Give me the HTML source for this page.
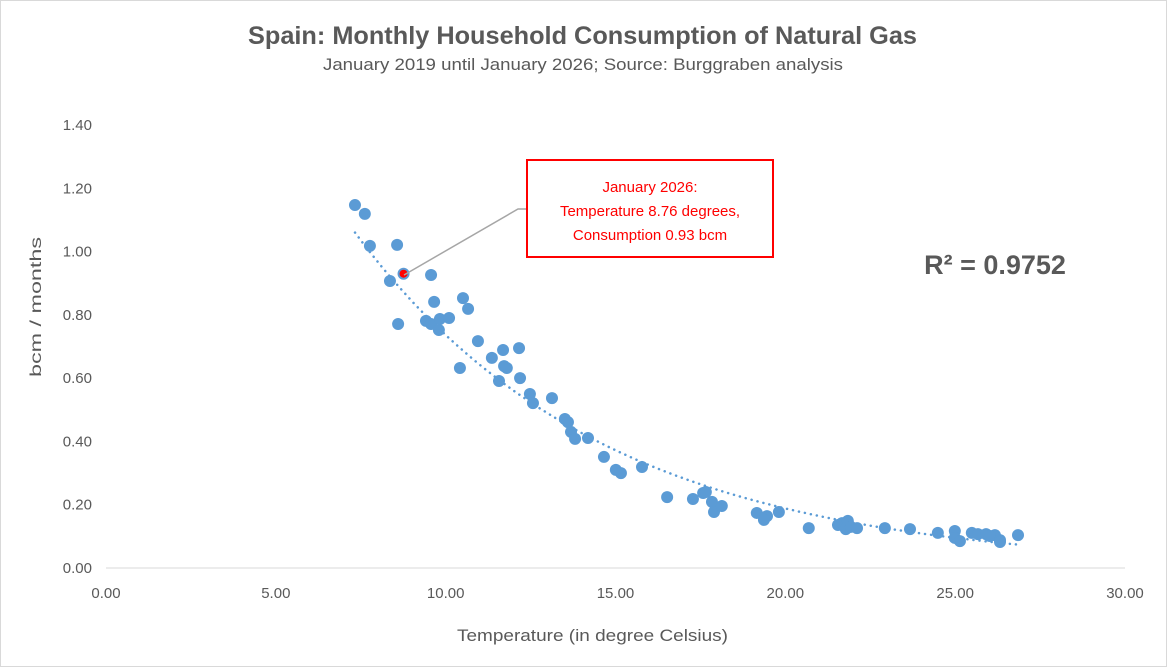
<!DOCTYPE html>
<html><head><meta charset="utf-8"><style>
body{margin:0;background:#fff;}
svg{display:block;font-family:"Liberation Sans",Arial,sans-serif;}
</style></head><body>
<svg width="1167" height="667" viewBox="0 0 1167 667">
<rect x="0.5" y="0.5" width="1166" height="666" fill="#fff" stroke="#d9d9d9"/>
<text x="248" y="44" textLength="669" lengthAdjust="spacingAndGlyphs" font-size="25" font-weight="bold" fill="#595959">Spain: Monthly Household Consumption of Natural Gas</text>
<text x="323" y="70" textLength="520" lengthAdjust="spacingAndGlyphs" font-size="17" fill="#595959">January 2019 until January 2026; Source: Burggraben analysis</text>
<g id="yticks"></g>
<g id="xticks"></g>
<line x1="106" y1="568" x2="1125" y2="568" stroke="#d9d9d9"/>
<text x="457" y="641" textLength="271" lengthAdjust="spacingAndGlyphs" font-size="17" fill="#595959">Temperature (in degree Celsius)</text>
<text transform="translate(41,377) rotate(-90)" textLength="140" lengthAdjust="spacingAndGlyphs" font-size="16" fill="#595959">bcm / months</text>
<g id="trend"></g>
<g id="pts"></g>
<polyline points="404,275 518,209 527,209" fill="none" stroke="#a6a6a6" stroke-width="1.5"/>
<rect x="527" y="160" width="246" height="97" fill="#fff" stroke="#ff0000" stroke-width="2"/>
<text text-anchor="middle" font-size="15" fill="#ff0000"><tspan x="650" y="192">January 2026:</tspan><tspan x="650" y="216">Temperature 8.76 degrees,</tspan><tspan x="650" y="240">Consumption 0.93 bcm</tspan></text>
<text x="995" y="274" text-anchor="middle" font-size="27" font-weight="bold" fill="#595959">R² = 0.9752</text>
</svg>
<script>
const xTickVals=[0,5,10,15,20,25,30];
const yTickVals=[0,0.2,0.4,0.6,0.8,1.0,1.2,1.4];
const temps=[7.33,7.62,7.77,8.57,8.36,9.57,8.60,9.66,10.51,10.66,9.42,9.57,9.83,10.10,9.80,10.42,10.95,11.36,11.69,12.16,11.72,11.80,11.57,12.19,12.48,12.57,13.13,13.51,13.60,13.69,13.81,14.19,14.66,15.01,15.16,15.78,16.52,17.28,17.58,17.66,17.84,17.90,18.13,19.16,19.46,19.37,19.81,20.69,21.55,21.67,21.78,21.84,21.93,22.11,22.93,23.67,24.49,24.99,24.99,25.14,25.49,25.67,25.91,26.17,26.02,26.32,26.32,26.85];
const consumption=[1.147,1.119,1.018,1.021,0.907,0.926,0.771,0.841,0.853,0.819,0.781,0.771,0.787,0.790,0.752,0.632,0.717,0.664,0.689,0.695,0.638,0.632,0.591,0.600,0.550,0.521,0.537,0.471,0.461,0.430,0.408,0.411,0.351,0.310,0.300,0.319,0.224,0.218,0.237,0.240,0.209,0.177,0.196,0.174,0.164,0.152,0.177,0.126,0.136,0.142,0.123,0.149,0.130,0.126,0.126,0.123,0.111,0.117,0.095,0.085,0.111,0.107,0.107,0.104,0.101,0.088,0.082,0.104];
const highlight=[8.76,0.93];
const NS="http://www.w3.org/2000/svg";
function sx(v){return 106+v*(1125-106)/30;}
function sy(v){return 568-v*(568-125)/1.4;}
function mk(tag,attrs,parent){const e=document.createElementNS(NS,tag);for(const k in attrs)e.setAttribute(k,attrs[k]);parent.appendChild(e);return e;}
const yg=document.getElementById('yticks'),xg=document.getElementById('xticks');
yTickVals.forEach(v=>{const t=mk('text',{x:92,y:sy(v)+5,'text-anchor':'end','font-size':15,fill:'#595959'},yg);t.textContent=v.toFixed(2);

});
xTickVals.forEach(v=>{const t=mk('text',{x:sx(v),y:598,'text-anchor':'middle','font-size':15,fill:'#595959'},xg);t.textContent=v.toFixed(2);

});
let n=temps.length,sxv=0,syv=0,sxx=0,sxy=0;
for(let i=0;i<n;i++){const l=Math.log(consumption[i]);sxv+=temps[i];syv+=l;sxx+=temps[i]*temps[i];sxy+=temps[i]*l;}
const b=(n*sxy-sxv*syv)/(n*sxx-sxv*sxv),a=Math.exp((syv-b*sxv)/n);
const xmin=Math.min(...temps),xmax=Math.max(...temps);let d='';
for(let k=0;k<=100;k++){const x=xmin+(xmax-xmin)*k/100;d+=(k?'L':'M')+sx(x).toFixed(1)+','+sy(a*Math.exp(b*x)).toFixed(1);}
const tp=mk('path',{d:d,fill:'none',stroke:'#5b9bd5','stroke-width':2.5,'stroke-dasharray':'0.1 6','stroke-linecap':'round'},document.getElementById('trend'));


const pg=document.getElementById('pts');
for(let i=0;i<n;i++){const c=mk('circle',{cx:sx(temps[i]),cy:sy(consumption[i]),r:6,fill:'#5b9bd5'},pg);

}
const h=mk('circle',{cx:sx(highlight[0]),cy:sy(highlight[1]),r:5,fill:'#ff0000',stroke:'#5b9bd5','stroke-width':2},pg);


</script>
</body></html>
